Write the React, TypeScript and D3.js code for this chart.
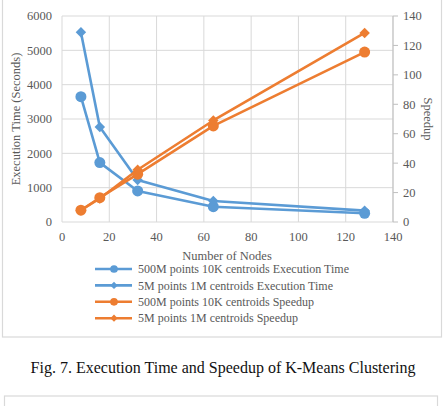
import React, { useEffect, useRef } from 'react'
import * as d3 from 'd3'

// node counts used in every run
const nodes = [8, 16, 32, 64, 128]

// execution time in seconds
const time500M = [3650, 1730, 905, 445, 255]
const time5M = [5525, 2765, 1225, 612, 330]

// speedup relative to 8 nodes
const speedup500M = [8, 16.5, 32.5, 65.3, 115.5]
const speedup5M = [8, 16, 35.5, 69, 128.5]

const xTicks = [0, 20, 40, 60, 80, 100, 120, 140]
const leftTicks = [0, 1000, 2000, 3000, 4000, 5000, 6000]
const rightTicks = [0, 20, 40, 60, 80, 100, 120, 140]

const BLUE = '#5B9BD5'
const ORANGE = '#ED7D31'

const seriesList = [
  { name: '500M points 10K centroids Execution Time', values: time500M, axis: 'left', color: BLUE, marker: 'circle' },
  { name: '5M points 1M centroids Execution Time', values: time5M, axis: 'left', color: BLUE, marker: 'diamond' },
  { name: '500M points 10K centroids Speedup', values: speedup500M, axis: 'right', color: ORANGE, marker: 'circle' },
  { name: '5M points 1M centroids Speedup', values: speedup5M, axis: 'right', color: ORANGE, marker: 'diamond' },
]

function App() {
  const svgRef = useRef(null)

  useEffect(() => {
    const svg = d3.select(svgRef.current)
    svg.selectAll('*').remove()

    const width = 446
    const height = 406
    const font = '"Liberation Serif", "Times New Roman", serif'
    const textColor = '#595959'

    svg.attr('width', width).attr('height', height).style('font-family', font)

    // chart frame
    svg.append('rect')
      .attr('x', 2.5).attr('y', -2)
      .attr('width', 439).attr('height', 339)
      .attr('fill', '#fff').attr('stroke', '#d9d9d9').attr('stroke-width', 1.2)

    const plot = { left: 62, right: 393, top: 16, bottom: 222 }

    const x = d3.scaleLinear().domain([0, 140]).range([plot.left, plot.right])
    const yLeft = d3.scaleLinear().domain([0, 6000]).range([plot.bottom, plot.top])
    const yRight = d3.scaleLinear().domain([0, 140]).range([plot.bottom, plot.top])

    // gridlines
    const grid = svg.append('g').attr('stroke', '#d9d9d9').attr('stroke-width', 1)
    grid.selectAll('line.h')
      .data(leftTicks)
      .join('line')
      .attr('x1', plot.left).attr('x2', plot.right)
      .attr('y1', (d) => yLeft(d)).attr('y2', (d) => yLeft(d))
    grid.selectAll('line.v')
      .data(xTicks)
      .join('line')
      .attr('x1', (d) => x(d)).attr('x2', (d) => x(d))
      .attr('y1', plot.top).attr('y2', plot.bottom)

    // right axis line and tick marks
    svg.append('g').attr('stroke', '#bfbfbf')
      .selectAll('line')
      .data(rightTicks)
      .join('line')
      .attr('x1', plot.right).attr('x2', plot.right + 5)
      .attr('y1', (d) => yRight(d)).attr('y2', (d) => yRight(d))
    svg.append('line')
      .attr('x1', plot.right).attr('x2', plot.right)
      .attr('y1', plot.top).attr('y2', plot.bottom)
      .attr('stroke', '#bfbfbf')

    // tick labels
    svg.append('g')
      .selectAll('text')
      .data(leftTicks)
      .join('text')
      .attr('x', plot.left - 10)
      .attr('y', (d) => yLeft(d))
      .attr('dy', '0.35em')
      .attr('text-anchor', 'end')
      .attr('font-size', 12.5)
      .attr('fill', textColor)
      .text((d) => d)

    svg.append('g')
      .selectAll('text')
      .data(rightTicks)
      .join('text')
      .attr('x', plot.right + 10)
      .attr('y', (d) => yRight(d))
      .attr('dy', '0.35em')
      .attr('font-size', 12.5)
      .attr('fill', textColor)
      .text((d) => d)

    svg.append('g')
      .selectAll('text')
      .data(xTicks)
      .join('text')
      .attr('x', (d) => x(d))
      .attr('y', plot.bottom + 15)
      .attr('dy', '0.35em')
      .attr('text-anchor', 'middle')
      .attr('font-size', 12.5)
      .attr('fill', textColor)
      .text((d) => d)

    // axis titles
    svg.append('text')
      .attr('transform', `translate(16,${(plot.top + plot.bottom) / 2}) rotate(-90)`)
      .attr('text-anchor', 'middle')
      .attr('dy', '0.35em')
      .attr('font-size', 12.5)
      .attr('fill', textColor)
      .text('Execution Time (Seconds)')
    svg.append('text')
      .attr('transform', `translate(428,${(plot.top + plot.bottom) / 2}) rotate(90)`)
      .attr('text-anchor', 'middle')
      .attr('dy', '0.35em')
      .attr('font-size', 12.5)
      .attr('fill', textColor)
      .text('Speedup')
    svg.append('text')
      .attr('x', 227).attr('y', 256)
      .attr('dy', '0.35em')
      .attr('text-anchor', 'middle')
      .attr('font-size', 12.5)
      .attr('fill', textColor)
      .text('Number of Nodes')

    const drawMarker = (g: any, s: any, cx: number, cy: number, scale: number) => {
      if (s.marker === 'circle') {
        g.append('circle').attr('cx', cx).attr('cy', cy).attr('r', 5.5 * scale).attr('fill', s.color)
      } else {
        g.append('path')
          .attr('d', d3.symbol().type(d3.symbolDiamond2).size(70 * scale * scale)())
          .attr('transform', `translate(${cx},${cy})`)
          .attr('fill', s.color)
      }
    }

    // series lines and markers
    seriesList.forEach((s) => {
      const yScale = s.axis === 'left' ? yLeft : yRight
      const line = d3.line<number>()
        .x((d, i) => x(nodes[i]))
        .y((d) => yScale(d))
      const g = svg.append('g')
      g.append('path')
        .datum(s.values)
        .attr('d', line)
        .attr('fill', 'none')
        .attr('stroke', s.color)
        .attr('stroke-width', 2.6)
        .attr('stroke-linejoin', 'round')
      s.values.forEach((v, i) => drawMarker(g, s, x(nodes[i]), yScale(v), 1))
    })

    // legend
    const legend = svg.append('g')
    seriesList.forEach((s, i) => {
      const ly = 269 + i * 16.4
      const row = legend.append('g')
      row.append('line')
        .attr('x1', 95).attr('x2', 132)
        .attr('y1', ly).attr('y2', ly)
        .attr('stroke', s.color).attr('stroke-width', 2.6)
      drawMarker(row, s, 114, ly, 0.7)
      row.append('text')
        .attr('x', 138).attr('y', ly)
        .attr('dy', '0.35em')
        .attr('font-size', 12)
        .attr('fill', textColor)
        .text(s.name)
    })

    // caption
    svg.append('text')
      .attr('x', 223).attr('y', 367)
      .attr('dy', '0.35em')
      .attr('text-anchor', 'middle')
      .attr('font-size', 16)
      .attr('fill', '#111')
      .text('Fig. 7. Execution Time and Speedup of K-Means Clustering')

    // next frame starting below
    svg.append('rect')
      .attr('x', 4.5).attr('y', 396)
      .attr('width', 433).attr('height', 30)
      .attr('fill', 'none').attr('stroke', '#d9d9d9').attr('stroke-width', 1.2)
  }, [])

  return (
    <svg ref={svgRef} style={{ position: 'absolute', left: 0, top: 0, display: 'block' }} />
  )
}

export default App
